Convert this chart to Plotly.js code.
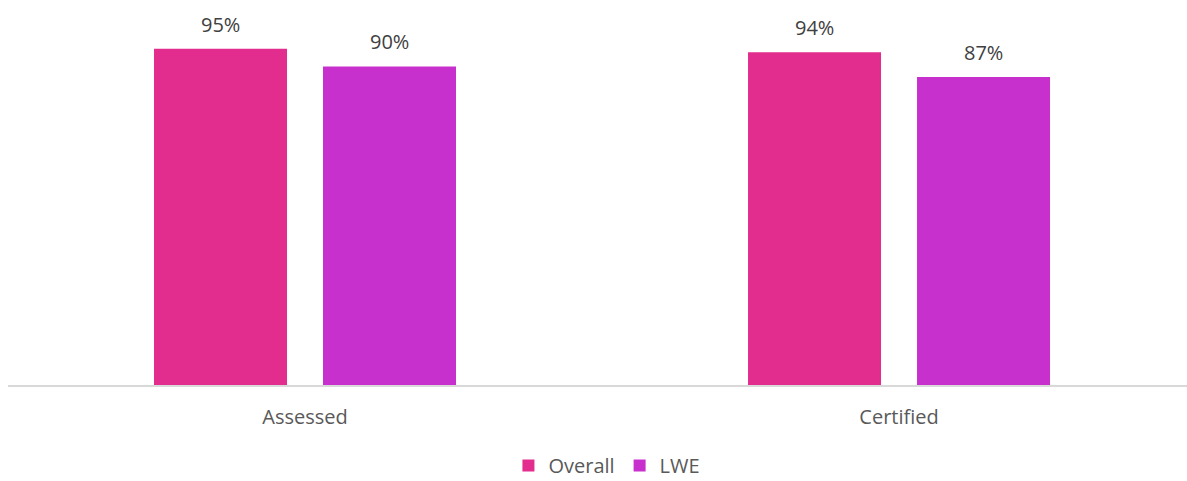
<!DOCTYPE html>
<html>
<head>
<meta charset="utf-8">
<script src="https://cdn.plot.ly/plotly-3.0.1.min.js"></script>
<style>html,body{margin:0;padding:0;background:#fff;}#chart{width:1187px;height:481px;}</style>
</head>
<body>
<div id="chart"></div>
<script>
const categories = ["Assessed", "Certified"];
const overallValues = [0.95, 0.94];
const lweValues = [0.90, 0.87];
const seriesNames = ["Overall", "LWE"];
const seriesColors = ["#e32d8e", "#c730cc"];

const fontFamily = "'Open Sans', 'Noto Sans', sans-serif";
const pct = v => Math.round(v * 100) + "%";

const barWidth = 0.2239;
const offsets = [-0.2542, 0.0303];

const traces = [overallValues, lweValues].map((vals, i) => ({
  type: "bar",
  name: seriesNames[i],
  x: categories,
  y: vals,
  width: barWidth,
  offset: offsets[i],
  marker: {color: seriesColors[i]},
  hoverinfo: "skip"
}));

const annotations = [];
[overallValues, lweValues].forEach((vals, i) => {
  vals.forEach((v, j) => {
    annotations.push({
      x: j + offsets[i] + barWidth / 2, y: v, xref: "x", yref: "y",
      text: pct(v), showarrow: false,
      xanchor: "center", yanchor: "bottom",
      yshift: 9,
      font: {family: fontFamily, size: 20, color: "#404040"}
    });
  });
});

const layout = {
  width: 1187, height: 481,
  margin: {l: 8, r: 0, t: 31, b: 96},
  paper_bgcolor: "#fff", plot_bgcolor: "#fff",
  barmode: "overlay",
  font: {family: fontFamily, size: 20, color: "#595959"},
  xaxis: {
    type: "category",
    range: [-0.5, 1.4848],
    showline: true, linecolor: "#d9d9d9", linewidth: 1.5,
    ticks: "", ticklabelstandoff: 13,
    tickfont: {family: fontFamily, size: 20, color: "#595959"},
    showgrid: false, zeroline: false, fixedrange: true, automargin: false
  },
  yaxis: {
    range: [0, 1],
    visible: false, showgrid: false, zeroline: false, fixedrange: true
  },
  showlegend: true,
  legend: {
    orientation: "h", x: 0.508, xanchor: "center",
    yref: "container", y: 0.032, yanchor: "middle",
    font: {family: fontFamily, size: 20, color: "#595959"},
    itemwidth: 30, tracegroupgap: 0
  },
  annotations: annotations
};

Plotly.newPlot("chart", traces, layout, {displayModeBar: false, staticPlot: true});
</script>
</body>
</html>
